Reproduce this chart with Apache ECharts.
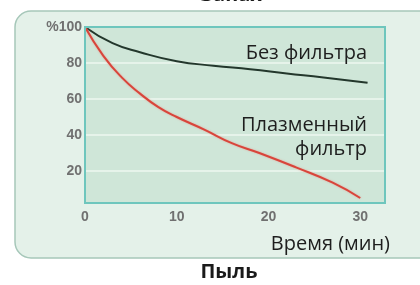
<!DOCTYPE html>
<html>
<head>
<meta charset="utf-8">
<script src="https://cdn.jsdelivr.net/npm/echarts@6/dist/echarts.min.js"></script>
<style>
  html,body{margin:0;padding:0;background:#fff;}
  #main{width:420px;height:285px;}
</style>
</head>
<body>
<div id="main"></div>
<script>
/* данные */
var noFilterX = [0, 3, 6, 10, 14, 18, 22, 26, 30.8];
var noFilterY = [100, 91, 86, 81, 78.5, 76.5, 74.2, 72, 69];
var plasmaX = [0, 2, 4, 6, 8, 10, 13, 16, 19, 23, 27, 30];
var plasmaY = [100, 84, 72, 63, 55.5, 50, 43, 35.5, 30, 22, 13.5, 5];
var xTicks = [0, 10, 20, 30];
var yTicks = [20, 40, 60, 80, 100];

function pairs(xs, ys) {
  var out = [];
  for (var i = 0; i < xs.length; i++) out.push([xs[i], ys[i]]);
  return out;
}

var myChart = echarts.init(document.getElementById('main'));
var txt = {fontFamily: 'Open Sans', fontSize: 20, fill: '#1e1e1e'};
var tick = {color: '#707070', fontSize: 14, fontWeight: 'bold', fontFamily: 'Liberation Sans'};

var option = {
  animation: false,
  backgroundColor: '#ffffff',
  grid: {left: 85, right: 35, top: 27, bottom: 78},
  xAxis: {
    type: 'value', min: 0, max: 32.7, interval: 10,
    axisLine: {show: false}, axisTick: {show: false}, splitLine: {show: false},
    axisLabel: {
      margin: 3, color: tick.color, fontSize: tick.fontSize, fontWeight: tick.fontWeight, fontFamily: tick.fontFamily,
      showMaxLabel: false,
      formatter: function (v) { return xTicks.indexOf(v) >= 0 ? String(v) : ''; }
    }
  },
  yAxis: {
    type: 'value', min: 0, max: 100, interval: 20,
    axisLine: {show: false}, axisTick: {show: false},
    splitLine: {show: true, showMinLine: false, showMaxLine: false, lineStyle: {color: '#eef7f0', width: 1.5}},
    axisLabel: {
      margin: 3, color: tick.color, fontSize: tick.fontSize, fontWeight: tick.fontWeight, fontFamily: tick.fontFamily,
      showMinLabel: false,
      formatter: function (v) {
        if (yTicks.indexOf(v) < 0) return '';
        return v === 100 ? '%100' : String(v);
      }
    }
  },
  graphic: [
    {type: 'rect', z: -10, shape: {x: 15, y: 11, width: 440, height: 247, r: 16},
      style: {fill: '#e4f1e9', stroke: '#a6c7b9', lineWidth: 1.5}},
    {type: 'rect', z: -9, shape: {x: 85, y: 27, width: 300, height: 176},
      style: {fill: '#cfe6d8'}},
    {type: 'rect', z: 50, shape: {x: 85, y: 27, width: 300, height: 176},
      style: {fill: null, stroke: '#6ec6bd', lineWidth: 2}},
    {type: 'text', z: 60, style: {text: 'Без фильтра', x: 367, y: 53, align: 'right', verticalAlign: 'middle',
      fontFamily: txt.fontFamily, fontSize: txt.fontSize, fill: txt.fill}},
    {type: 'text', z: 60, style: {text: 'Плазменный', x: 367, y: 125, align: 'right', verticalAlign: 'middle',
      fontFamily: txt.fontFamily, fontSize: txt.fontSize, fill: txt.fill}},
    {type: 'text', z: 60, style: {text: 'фильтр', x: 367, y: 149, align: 'right', verticalAlign: 'middle',
      fontFamily: txt.fontFamily, fontSize: txt.fontSize, fill: txt.fill}},
    {type: 'text', z: 60, style: {text: 'Время (мин)', x: 390, y: 244, align: 'right', verticalAlign: 'middle',
      fontFamily: txt.fontFamily, fontSize: txt.fontSize, fill: txt.fill}},
    {type: 'text', z: 60, style: {text: 'Пыль', x: 229, y: 272, align: 'center', verticalAlign: 'middle',
      fontFamily: 'Open Sans', fontWeight: 'bold', fontSize: 20, fill: '#1a1a1a'}},
    {type: 'text', z: 60, style: {text: 'Запах', x: 231, y: 5, align: 'center', verticalAlign: 'bottom',
      fontFamily: 'Open Sans', fontWeight: 'bold', fontSize: 20, fill: '#1a1a1a'}}
  ],
  series: [
    {
      name: 'Без фильтра', type: 'line', smooth: 0.5, symbol: 'none',
      data: pairs(noFilterX, noFilterY),
      lineStyle: {color: '#23372c', width: 2}
    },
    {
      name: 'Плазменный фильтр', type: 'line', smooth: 0.5, symbol: 'none',
      data: pairs(plasmaX, plasmaY),
      lineStyle: {color: '#d8453b', width: 2, shadowColor: 'rgba(240,120,110,0.6)', shadowBlur: 2}
    }
  ]
};

myChart.setOption(option);
</script>
</body>
</html>
